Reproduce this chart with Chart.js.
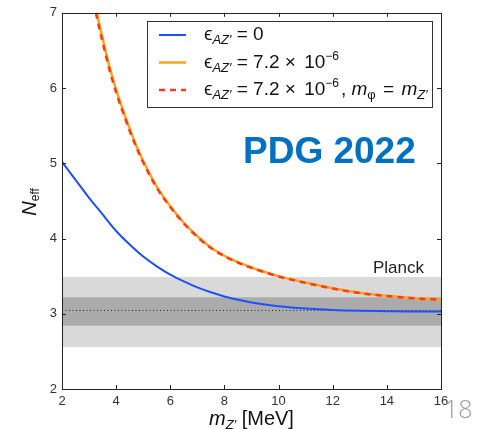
<!DOCTYPE html>
<html>
<head>
<meta charset="utf-8">
<script src="https://cdn.jsdelivr.net/npm/chart.js@4.4.0/dist/chart.umd.min.js"></script>
<style>
  body { margin: 0; background: #fff; }
  #wrap { width: 477px; height: 429px; position: relative; }
</style>
</head>
<body>
<div id="wrap"><canvas id="neffChart"></canvas></div>
<script>
// values
const massBlue = [2, 2.5, 3, 3.5, 4, 4.5, 5, 5.5, 6, 6.5, 7, 7.5, 8, 8.5, 9, 9.5, 10, 11, 12, 13, 14, 15, 16];
const nEffBlue = [5.02, 4.78, 4.54, 4.32, 4.10, 3.92, 3.76, 3.63, 3.52, 3.43, 3.35, 3.285, 3.23, 3.185, 3.15, 3.122, 3.10, 3.07, 3.05, 3.04, 3.035, 3.03, 3.03];

const massOrange = [3, 3.25, 3.5, 3.75, 4, 4.25, 4.5, 4.75, 5, 5.5, 6, 6.5, 7, 7.5, 8, 8.5, 9, 9.5, 10, 11, 12, 13, 14, 15, 16];
const nEffOrange = [7.50, 7.06, 6.66, 6.29, 5.98, 5.71, 5.46, 5.23, 5.03, 4.69, 4.43, 4.21, 4.03, 3.88, 3.77, 3.685, 3.615, 3.555, 3.50, 3.415, 3.34, 3.28, 3.24, 3.21, 3.19];
const nEffRed = [7.43, 7.00, 6.61, 6.25, 5.94, 5.68, 5.43, 5.21, 5.01, 4.675, 4.42, 4.20, 4.02, 3.875, 3.765, 3.68, 3.61, 3.55, 3.495, 3.41, 3.335, 3.275, 3.235, 3.205, 3.185];

const planckRange = [2, 16];
const planckOuter = [2.557, 3.49];
const planckInner = [2.84, 3.22];
const planckCentral = 3.044;

const xTicks = [2, 4, 6, 8, 10, 12, 14, 16];
const yTicks = [2, 3, 4, 5, 6, 7];

const pts = (xs, ys) => xs.map((x, i) => ({ x: x, y: ys[i] }));
const flat = (v) => planckRange.map(x => ({ x: x, y: v }));

const BLUE = '#1f50ff', ORANGE = '#ffa414', RED = '#ff3b1e';
const FONT = '"Liberation Sans", Arial, sans-serif';

// rich text: segments with size, italic and baseline shift
function richWidth(ctx, segs) {
    let w = 0;
    segs.forEach(s => {
        ctx.font = (s.italic ? 'italic ' : '') + s.size + 'px ' + FONT;
        w += ctx.measureText(s.t).width + (s.gap || 0);
    });
    return w;
}
function drawRich(ctx, x, y, segs, color) {
    ctx.fillStyle = color || '#111';
    ctx.textBaseline = 'alphabetic';
    ctx.textAlign = 'left';
    segs.forEach(s => {
        ctx.font = (s.italic ? 'italic ' : '') + s.size + 'px ' + FONT;
        ctx.fillText(s.t, x, y + (s.dy || 0));
        x += ctx.measureText(s.t).width + (s.gap || 0);
    });
}

const eps = [{ t: 'ϵ', size: 19 }, { t: 'AZ′', size: 13, italic: true, dy: 4 }];
const sevenTwo = [{ t: ' = ', size: 19 }, { t: '7.2', size: 19 }, { t: ' × ', size: 19, gap: 3 }, { t: '10', size: 19 }, { t: '−6', size: 12, dy: -8, gap: 2 }];
const legendRows = [
    { color: BLUE, dash: [], width: 2, segs: eps.concat([{ t: ' = 0', size: 19 }]) },
    { color: ORANGE, dash: [], width: 2.5, segs: eps.concat(sevenTwo) },
    { color: RED, dash: [6, 5], width: 2.5, segs: eps.concat(sevenTwo, [
        { t: ', ', size: 19 }, { t: 'm', size: 19, italic: true }, { t: 'φ', size: 13, dy: 4, gap: 2 },
        { t: ' = ', size: 19, gap: 2 }, { t: 'm', size: 19, italic: true }, { t: 'Z′', size: 13, italic: true, dy: 4 }]) }
];

const decorations = {
    id: 'decorations',
    afterDatasetsDraw(chart) {
        const ctx = chart.ctx;
        const a = chart.chartArea;
        const xs = chart.scales.x, ys = chart.scales.y;
        ctx.save();
        ctx.strokeStyle = '#222';
        ctx.lineWidth = 1;
        ctx.strokeRect(Math.round(a.left) + 0.5, Math.round(a.top) + 0.5, Math.round(a.right - a.left), Math.round(a.bottom - a.top));
        // inward ticks on all four sides
        ctx.beginPath();
        xTicks.forEach(v => {
            const px = Math.round(xs.getPixelForValue(v)) + 0.5;
            ctx.moveTo(px, a.bottom); ctx.lineTo(px, a.bottom - 4);
            ctx.moveTo(px, a.top); ctx.lineTo(px, a.top + 4);
        });
        yTicks.forEach(v => {
            const py = Math.round(ys.getPixelForValue(v)) + 0.5;
            ctx.moveTo(a.left, py); ctx.lineTo(a.left + 4, py);
            ctx.moveTo(a.right, py); ctx.lineTo(a.right - 4, py);
        });
        ctx.stroke();
        ctx.restore();
    },
    afterDraw(chart) {
        const ctx = chart.ctx;
        const a = chart.chartArea;
        ctx.save();

        // legend box
        ctx.fillStyle = '#fff';
        ctx.fillRect(147.5, 21.5, 285, 86);
        ctx.strokeStyle = '#333';
        ctx.lineWidth = 1;
        ctx.strokeRect(147.5, 21.5, 285, 86);
        legendRows.forEach((r, i) => {
            const ly = 35 + i * 27.5;
            ctx.beginPath();
            ctx.strokeStyle = r.color;
            ctx.lineWidth = r.width;
            ctx.setLineDash(r.dash);
            ctx.moveTo(159, ly); ctx.lineTo(186, ly);
            ctx.stroke();
            ctx.setLineDash([]);
            drawRich(ctx, 204, ly + 5, r.segs, '#111');
        });

        // annotations
        ctx.fillStyle = '#0070c0';
        ctx.font = 'bold 37px ' + FONT;
        ctx.textBaseline = 'alphabetic';
        ctx.textAlign = 'left';
        ctx.fillText('PDG 2022', 243, 163);

        ctx.fillStyle = '#222';
        ctx.font = '17px ' + FONT;
        ctx.fillText('Planck', 373, 273);

        // axis titles
        const xt = [{ t: 'm', size: 20, italic: true }, { t: 'Z′', size: 13, italic: true, dy: 4 }, { t: ' [MeV]', size: 20 }];
        const xw = richWidth(ctx, xt);
        drawRich(ctx, (a.left + a.right) / 2 - xw / 2, 425, xt, '#111');

        const yt = [{ t: 'N', size: 20, italic: true }, { t: 'eff', size: 12, dy: 3 }];
        const yw = richWidth(ctx, yt);
        ctx.translate(36, (a.top + a.bottom) / 2 + 1);
        ctx.rotate(-Math.PI / 2);
        drawRich(ctx, -yw / 2, 0, yt, '#111');
        ctx.setTransform(1, 0, 0, 1, 0, 0);

        // slide page number
        ctx.fillStyle = '#9a9a9a';
        ctx.font = '300 25px "Open Sans", ' + FONT;
        ctx.fillText('18', 444, 418);
        ctx.restore();
    }
};

const line = (data, color, width, dash) => ({
    data: data,
    borderColor: color,
    borderWidth: width,
    borderDash: dash || [],
    pointRadius: 0,
    fill: false,
    cubicInterpolationMode: 'monotone'
});

new Chart(document.getElementById('neffChart'), {
    type: 'line',
    data: {
        datasets: [
            line(pts(massOrange, nEffRed), RED, 2.5, [6, 5]),
            line(pts(massOrange, nEffOrange), ORANGE, 2.5),
            line(pts(massBlue, nEffBlue), BLUE, 2),
            line(flat(planckCentral), '#222', 1, [1, 2.5]),
            {
                data: flat(planckInner[1]),
                borderWidth: 0,
                pointRadius: 0,
                backgroundColor: '#ababab',
                fill: { value: planckInner[0] }
            },
            {
                data: flat(planckOuter[1]),
                borderWidth: 0,
                pointRadius: 0,
                backgroundColor: '#d9d9d9',
                fill: { value: planckOuter[0] }
            }
        ]
    },
    options: {
        responsive: true,
        maintainAspectRatio: false,
        animation: false,
        layout: { padding: { top: 12, right: 36, left: 0, bottom: 0 } },
        plugins: {
            legend: { display: false },
            tooltip: { enabled: false }
        },
        scales: {
            x: {
                type: 'linear',
                min: 2,
                max: 16,
                afterFit: (scale) => { scale.height = 40; },
                afterBuildTicks: (scale) => { scale.ticks = xTicks.map(v => ({ value: v })); },
                grid: { display: false, drawTicks: false },
                border: { display: false },
                ticks: { color: '#333', padding: 5, maxRotation: 0, font: { family: FONT, size: 13 } }
            },
            y: {
                min: 2,
                max: 7,
                afterFit: (scale) => { scale.width = 62; },
                afterBuildTicks: (scale) => { scale.ticks = yTicks.map(v => ({ value: v })); },
                grid: { display: false, drawTicks: false },
                border: { display: false },
                ticks: { color: '#333', padding: 5, font: { family: FONT, size: 13 } }
            }
        }
    },
    plugins: [decorations]
});
</script>
</body>
</html>
